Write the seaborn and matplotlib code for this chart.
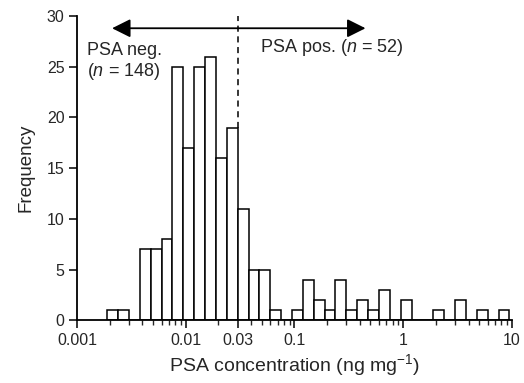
import numpy as np
import pandas as pd
import matplotlib
matplotlib.use("Agg")
import matplotlib.pyplot as plt
from matplotlib.ticker import FixedLocator, NullFormatter
import seaborn as sns

sns.set_style("ticks")
plt.rcParams['font.family'] = ['Liberation Sans', 'DejaVu Sans']
plt.rcParams['mathtext.fontset'] = 'custom'
plt.rcParams['mathtext.rm'] = 'Liberation Sans'
plt.rcParams['mathtext.it'] = 'Liberation Sans:italic'

# counts per bin (bins 0.1 log10 wide, one edge sitting on 0.03)
counts = [1, 1, 0, 7, 7, 8, 25, 17, 25, 26, 16, 19,
          11, 5, 5, 1, 0, 1, 4, 2, 1, 4, 1, 2, 1, 3, 0, 2,
          0, 0, 1, 0, 2, 0, 1, 0, 1]
cutoff = 0.03
tick_vals = [0.001, 0.01, 0.03, 0.1, 1, 10]
tick_labels = ['0.001', '0.01', '0.03', '0.1', '1', '10']

# bin edges in log10 space
first_edge = np.log10(cutoff) - 1.2
edges = first_edge + 0.1 * np.arange(len(counts) + 1)
centres = 10 ** ((edges[:-1] + edges[1:]) / 2)
df = pd.DataFrame({'conc': centres, 'n': counts})

fig = plt.figure(figsize=(5.24, 3.83), dpi=100)
ax = fig.add_axes([0.147, 0.164, 0.830, 0.794])

sns.histplot(data=df, x='conc', weights='n', bins=edges.tolist(), log_scale=True,
             color='white', edgecolor='black', linewidth=1.1, alpha=1, ax=ax)

ax.set_xlim(0.001, 10)
ax.set_ylim(0, 30)
ax.set_yticks([0, 5, 10, 15, 20, 25, 30])
ax.xaxis.set_major_locator(FixedLocator(tick_vals))
ax.set_xticklabels(tick_labels)
minors = [m * 10.0 ** d for d in range(-3, 1) for m in range(2, 10)]
ax.xaxis.set_minor_locator(FixedLocator(minors))
ax.xaxis.set_minor_formatter(NullFormatter())
ax.tick_params(axis='both', which='major', length=6, width=1.1, labelsize=11.5,
               color='black', pad=3)
ax.tick_params(axis='x', which='minor', length=3.5, width=1.0)
for s in ['left', 'bottom']:
    ax.spines[s].set_linewidth(1.3)
    ax.spines[s].set_color('black')
sns.despine(ax=ax)

ax.set_xlabel('PSA concentration (ng mg$^{-1}$)', fontsize=14, labelpad=3)
ax.set_ylabel('Frequency', fontsize=13.5, labelpad=9)

# cut-off line and arrow
ax.plot([cutoff, cutoff], [19, 30], ls=(0, (4, 3)), color='black', lw=1.1)
ax.annotate('', xy=(0.0021, 28.8), xytext=(0.45, 28.8),
            arrowprops=dict(arrowstyle='<|-|>,head_length=0.8,head_width=0.4',
                            mutation_scale=14, color='black', lw=1.3,
                            shrinkA=0, shrinkB=0))
ax.text(0.00123, 27.4, 'PSA neg.\n($n$ = 148)', fontsize=13, va='top', ha='left',
        linespacing=1.1)
ax.text(0.048, 27.9, 'PSA pos. ($n$ = 52)', fontsize=13, va='top', ha='left')

fig.savefig('out.png', dpi=100)
